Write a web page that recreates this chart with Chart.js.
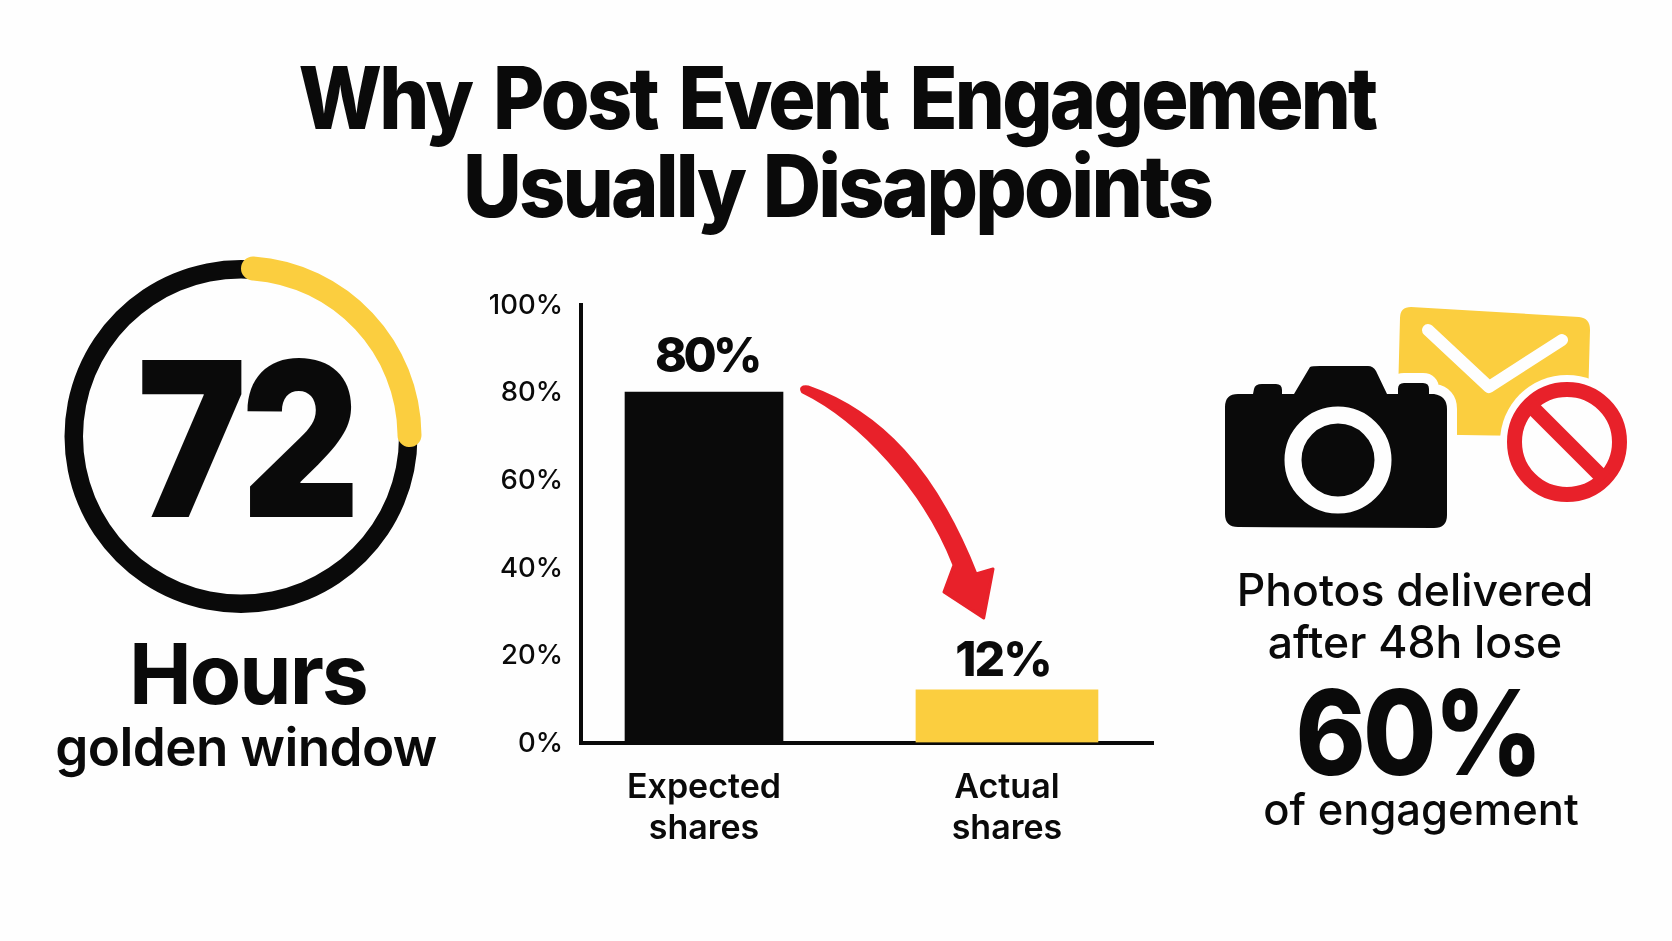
<!DOCTYPE html>
<html><head><meta charset="utf-8">
<script src="https://cdn.jsdelivr.net/npm/chart.js@4"></script>
<style>
html,body{margin:0;padding:0;background:#fefefe;}
#page{position:relative;width:1672px;height:941px;overflow:hidden;background:#fefefe;color:#0a0a0a;font-family:Inter,"Open Sans",sans-serif;}
.t{position:absolute;white-space:nowrap;line-height:1;transform:translateX(-50%);}
canvas{position:absolute;}
svg{position:absolute;left:0;top:0;}
</style></head><body>
<div id="page">
<canvas id="ringBase" width="380" height="381" style="left:51px;top:246px"></canvas>
<canvas id="ringTop" width="380" height="381" style="left:51px;top:246px"></canvas>
<canvas id="bars" width="760" height="600" style="left:440px;top:270px"></canvas>
<svg width="1672" height="941" viewBox="0 0 1672 941">
  <path d="M808 387 C880 412 935 470 976 574 L993 569 L983.7 618 L944 592 L954 565 C925 490 860 420 802.6 392 Q799 386 808 387 Z" fill="#e8212a" stroke="#e8212a" stroke-width="3" stroke-linejoin="round"/>
  <path d="M1411 307 L1579 317 Q1590 318 1590 330 L1587 437 L1397 434 L1400 318 Q1400 307 1411 307 Z" fill="#fbce3f"/>
  <polyline points="1428,330 1489,387 1562,340" fill="none" stroke="#fefefe" stroke-width="12" stroke-linecap="round" stroke-linejoin="round"/>
  <path id="cam" d="M1238 394 L1253 394 L1254 389 Q1255 384 1262 384 L1276 384 Q1282 384 1282 390 L1282 394 L1294 394 L1310 367 Q1312 366 1320 366 L1368 366 Q1373 366 1376 371 L1387 394 L1398 394 L1398 389 Q1398 383 1404 383 L1423 383 Q1429 383 1429 389 L1429 394 L1434 394 Q1447 396 1447 409 L1447 515 Q1447 528 1434 528 L1238 527 Q1225 527 1225 514 L1225 407 Q1225 394 1238 394 Z" fill="#0a0a0a" stroke="#fefefe" stroke-width="20" stroke-linejoin="round" paint-order="stroke"/>
  <circle cx="1338" cy="460" r="45" fill="#0a0a0a" stroke="#fefefe" stroke-width="17"/>
  <circle cx="1567" cy="442" r="67" fill="#fefefe"/>
  <circle cx="1567" cy="442" r="52.5" fill="none" stroke="#e8212a" stroke-width="15"/>
  <line x1="1530" y1="405" x2="1604" y2="479" stroke="#e8212a" stroke-width="15"/>
</svg>
<div class="t" id="title1" style="left:837px;top:55px;font-size:86px;font-weight:800;letter-spacing:-3px;word-spacing:8px;transform:translateX(-50%) scaleX(.917);">Why Post Event Engagement</div>
<div class="t" id="title2" style="left:837px;top:143px;font-size:86px;font-weight:800;letter-spacing:-3px;word-spacing:4px;transform:translateX(-50%) scaleX(.94);">Usually Disappoints</div>
<div class="t" id="big" style="left:246px;top:331px;font-size:216px;font-weight:900;transform:translateX(-50%) scaleX(.85);letter-spacing:-6px;">72</div>
<div class="t" style="left:248px;top:632px;font-size:84px;font-weight:700;letter-spacing:-2px;">Hours</div>
<div class="t" style="left:246px;top:721px;font-size:53px;font-weight:600;letter-spacing:-.6px;">golden window</div>
<div class="t" style="left:1415px;top:568px;font-size:44.5px;font-weight:500;">Photos delivered</div>
<div class="t" style="left:1415px;top:620px;font-size:44.5px;font-weight:500;">after 48h lose</div>
<div class="t" style="left:1418px;top:673px;font-size:118px;font-weight:800;letter-spacing:-3px;transform:translateX(-50%) scaleX(.9);">60%</div>
<div class="t" style="left:1421px;top:788px;font-size:43.5px;font-weight:500;">of engagement</div>
</div>
<script>
const categories = [["Expected","shares"],["Actual","shares"]];
const expectedShares = [80];
const actualShares = [12];
const axisMax = 100;
const axisStep = 20;
const goldenWindow = [26, 74];
const BLACK = '#0a0a0a', YELLOW = '#fbce3f';
Chart.defaults.animation = false;
Chart.defaults.devicePixelRatio = 1;
Chart.defaults.font.family = 'Inter';
const ringOpts = (radius, inner) => ({responsive:false,radius:radius,cutout:(inner/radius*100)+'%',layout:{padding:0},
  plugins:{legend:{display:false},tooltip:{enabled:false}},events:[]});
new Chart(document.getElementById('ringBase'),{type:'doughnut',
  data:{datasets:[{data:[100],backgroundColor:[BLACK],borderWidth:0}]},options:ringOpts(176.5,158)});
new Chart(document.getElementById('ringTop'),{type:'doughnut',
  data:{datasets:[{data:goldenWindow,backgroundColor:[YELLOW,'rgba(0,0,0,0)'],borderWidth:0,borderRadius:[12,0]}]},options:ringOpts(180.5,156.5)});

const valueLabels = {
  id:'valueLabels',
  afterDatasetsDraw(chart){
    const ctx = chart.ctx;
    chart.data.datasets.forEach((ds,i)=>{
      const el = chart.getDatasetMeta(i).data[0];
      ctx.save();
      ctx.font = '800 48px Inter';
      if ('letterSpacing' in ctx) ctx.letterSpacing = ds.labelSpacing;
      ctx.fillStyle = BLACK;
      ctx.textAlign = 'center';
      ctx.textBaseline = 'alphabetic';
      ctx.fillText(ds.data[0].y + '%', el.x + ds.labelShiftX, el.y - ds.labelGap);
      ctx.restore();
    });
  }
};
new Chart(document.getElementById('bars'),{
  type:'bar',
  data:{datasets:[
    {data:expectedShares.map(v=>({x:0,y:v})),backgroundColor:BLACK,barThickness:158,grouped:false,labelGap:20,labelShiftX:3,labelSpacing:'-3.5px',borderWidth:0},
    {data:actualShares.map(v=>({x:1,y:v})),backgroundColor:YELLOW,barThickness:182,grouped:false,labelGap:14,labelShiftX:-4,labelSpacing:'-2px',borderWidth:0}
  ]},
  options:{
    responsive:false,
    events:[],
    layout:{padding:{top:34.5,right:47,left:0,bottom:0}},
    plugins:{legend:{display:false},tooltip:{enabled:false}},
    scales:{
      x:{type:'linear',offset:false,min:-0.406,max:1.482,
        afterFit:s=>{s.height=127.5;},
        grid:{display:false,drawTicks:false,offset:false},
        border:{display:true,color:BLACK,width:4},
        ticks:{stepSize:1,includeBounds:false,padding:25,maxRotation:0,color:BLACK,
          font:{size:34,weight:'600',lineHeight:1.2},
          callback:v=>categories[v]}},
      y:{min:0,max:axisMax,
        afterFit:s=>{s.width=141;},
        grid:{display:false,drawTicks:false},
        border:{display:true,color:BLACK,width:4},
        ticks:{stepSize:axisStep,padding:18,labelOffset:1,color:BLACK,font:{size:27.5,weight:'500'},callback:v=>v+'%'}}
    }
  },
  plugins:[valueLabels]
});
</script>
</body></html>
